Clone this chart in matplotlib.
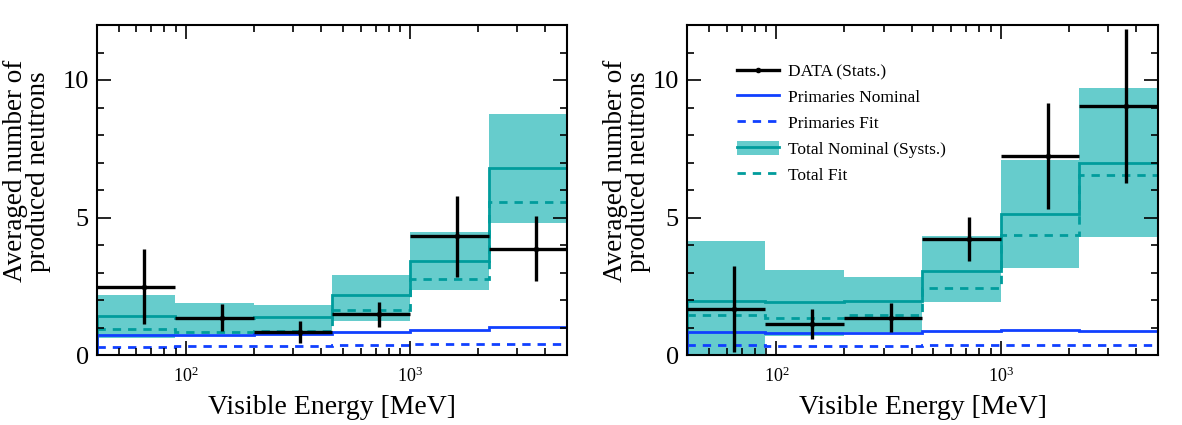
import matplotlib
matplotlib.use("Agg")
import matplotlib.pyplot as plt
import numpy as np
from matplotlib.lines import Line2D
from matplotlib.patches import Patch
from matplotlib.ticker import LogLocator, LogFormatterMathtext, MultipleLocator, NullFormatter

plt.rcParams['font.family'] = ['Liberation Serif', 'DejaVu Serif']
plt.rcParams['mathtext.fontset'] = 'stix'

# bin edges in visible energy [MeV]
edges = [40, 89.4, 200, 447, 1000, 2236, 5000]

# left panel
L_data = [2.49, 1.36, 0.82, 1.48, 4.31, 3.87]
L_data_err = [1.36, 0.48, 0.40, 0.45, 1.47, 1.18]
L_tot_nom = [1.42, 1.36, 1.39, 2.19, 3.43, 6.80]
L_tot_lo = [0.61, 0.78, 0.78, 1.22, 2.36, 4.79]
L_tot_hi = [2.17, 1.90, 1.81, 2.90, 4.46, 8.77]
L_tot_fit = [0.96, 0.84, 0.88, 1.64, 2.75, 5.57]
L_prim_nom = [0.71, 0.73, 0.76, 0.84, 0.92, 1.01]
L_prim_fit = [0.29, 0.31, 0.34, 0.36, 0.39, 0.41]

# right panel
R_data = [1.67, 1.14, 1.36, 4.22, 7.23, 9.05]
R_data_err = [1.57, 0.55, 0.53, 0.81, 1.93, 2.79]
R_tot_nom = [1.97, 1.91, 1.97, 3.07, 5.13, 6.98]
R_tot_lo = [-0.1, 0.69, 0.82, 1.91, 3.15, 4.28]
R_tot_hi = [4.14, 3.10, 2.82, 4.32, 7.08, 9.72]
R_tot_fit = [1.45, 1.36, 1.45, 2.43, 4.37, 6.53]
R_prim_nom = [0.84, 0.80, 0.80, 0.88, 0.92, 0.86]
R_prim_fit = [0.36, 0.34, 0.34, 0.35, 0.38, 0.38]

band_c = '#66cccc'
teal = '#009c9c'
blue = '#1040ff'

fig = plt.figure(figsize=(11.82, 4.25), dpi=100)
axL = fig.add_axes([97/1182, 70/425, 470/1182, 330/425])
axR = fig.add_axes([687/1182, 70/425, 471/1182, 330/425])


def draw(ax, data, err, nom, lo, hi, fit, pnom, pfit, lab_x):
    e = np.array(edges)
    ax.stairs(hi, e, baseline=lo, fill=True, color=band_c, lw=0)
    ax.stairs(nom, e, baseline=0, color=teal, lw=2)
    ax.stairs(fit, e, baseline=None, color=teal, lw=2, ls=(0, (3, 2.5)))
    ax.stairs(pnom, e, baseline=0, color=blue, lw=2)
    ax.stairs(pfit, e, baseline=None, color=blue, lw=2, ls=(0, (3, 2.5)))
    xc = (e[:-1] + e[1:]) / 2
    xe = (e[1:] - e[:-1]) / 2
    ax.errorbar(xc, data, yerr=err, xerr=xe, fmt='o', color='black', ms=3,
                elinewidth=2.4, capsize=0)
    ax.set_xscale('log')
    ax.set_xlim(40, 5000)
    ax.set_ylim(0, 12)
    ax.yaxis.set_major_locator(MultipleLocator(5))
    ax.yaxis.set_minor_locator(MultipleLocator(1))
    ax.xaxis.set_major_locator(LogLocator(base=10))
    ax.xaxis.set_major_formatter(LogFormatterMathtext())
    ax.xaxis.set_minor_locator(LogLocator(base=10, subs=np.arange(2, 10)))
    ax.xaxis.set_minor_formatter(NullFormatter())
    ax.tick_params(which='both', direction='in', top=True, right=True, width=1.2)
    ax.tick_params(which='major', length=10)
    ax.tick_params(which='minor', length=5)
    ax.tick_params(axis='y', labelsize=19, pad=6)
    ax.tick_params(axis='x', labelsize=13, pad=8)
    for s in ax.spines.values():
        s.set_linewidth(1.5)
    ax.set_xlabel('Visible Energy [MeV]', fontsize=20, labelpad=7)
    ax.set_ylabel('Averaged number of\nproduced neutrons', fontsize=19.5,
                  linespacing=0.9)
    ax.yaxis.set_label_coords(lab_x, 0.557)


draw(axL, L_data, L_data_err, L_tot_nom, L_tot_lo, L_tot_hi, L_tot_fit,
     L_prim_nom, L_prim_fit, -0.097)
draw(axR, R_data, R_data_err, R_tot_nom, R_tot_lo, R_tot_hi, R_tot_fit,
     R_prim_nom, R_prim_fit, -0.076)

h_data = Line2D([], [], color='black', lw=2.4, marker='o', ms=3)
h_pnom = Line2D([], [], color=blue, lw=2)
h_pfit = Line2D([], [], color=blue, lw=2, ls=(0, (3, 2.5)))
h_tnom = (Patch(facecolor=band_c, lw=0), Line2D([], [], color=teal, lw=2))
h_tfit = Line2D([], [], color=teal, lw=2, ls=(0, (3, 2.5)))
axR.legend([h_data, h_pnom, h_pfit, h_tnom, h_tfit],
           ['DATA (Stats.)', 'Primaries Nominal', 'Primaries Fit',
            'Total Nominal (Systs.)', 'Total Fit'],
           loc='upper left', bbox_to_anchor=(0.106, 0.885), frameon=False,
           fontsize=12.5, handlelength=2.4, handleheight=0.9, handletextpad=0.55,
           labelspacing=0.5, borderaxespad=0, borderpad=0)

fig.savefig('out.png', dpi=100)
